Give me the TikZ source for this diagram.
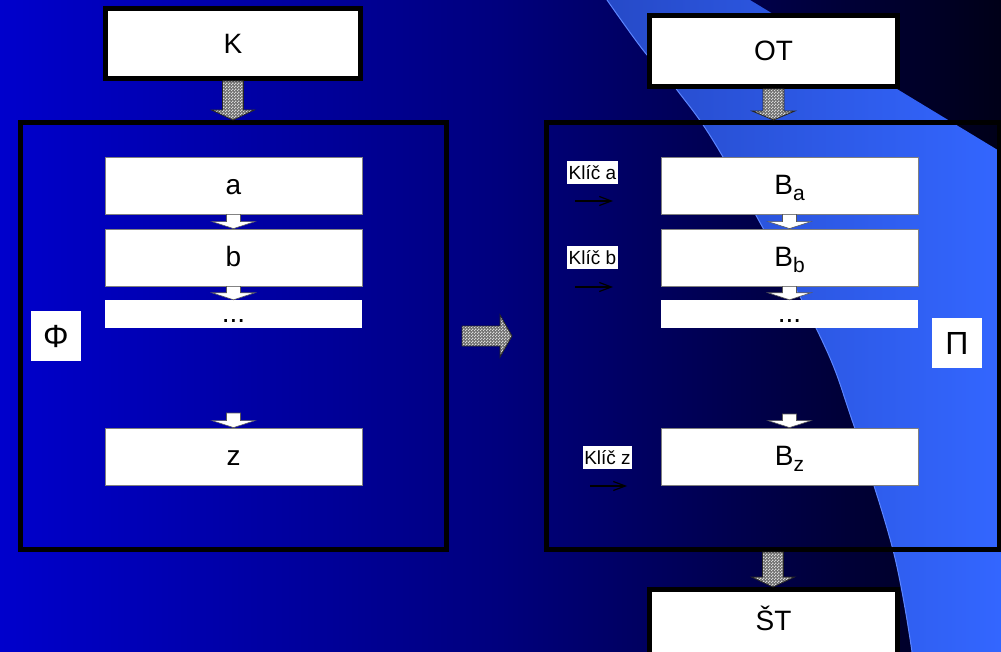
\documentclass[tikz,border=0pt]{standalone}
\usepackage{fontspec}
\setmainfont{Liberation Sans}
\usetikzlibrary{patterns,calc,arrows.meta}
\definecolor{bgA}{RGB}{0,0,204}
\definecolor{bgB}{RGB}{0,0,125}
\definecolor{bgC}{RGB}{0,0,24}
\definecolor{bandA}{RGB}{38,74,200}
\definecolor{bandB}{RGB}{51,102,255}
\definecolor{chkA}{RGB}{110,110,110}
\definecolor{chkB}{RGB}{215,215,215}
\pgfdeclarehorizontalshading{bgshade}{100bp}{color(0bp)=(bgA); color(25bp)=(bgA); color(50bp)=(bgB); color(75bp)=(bgC); color(100bp)=(bgC)}
\pgfdeclarepatternformonly{finecheck}{\pgfpointorigin}{\pgfqpoint{3pt}{3pt}}{\pgfqpoint{3pt}{3pt}}{%
  \pgfpathrectangle{\pgfpointorigin}{\pgfqpoint{1.55pt}{1.55pt}}%
  \pgfpathrectangle{\pgfqpoint{1.5pt}{1.5pt}}{\pgfqpoint{1.55pt}{1.55pt}}%
  \pgfusepath{fill}}
\newcommand\myvarrow[6]{\path[#1] let \p1=(#2), \p2=(#3) in
  (\x1-#4pt,\y1) -- (\x1+#4pt,\y1) -- (\x1+#4pt,\y2+#6pt) -- (\x1+#5pt,\y2+#6pt) -- (\x1,\y2)
  -- (\x1-#5pt,\y2+#6pt) -- (\x1-#4pt,\y2+#6pt) -- cycle;}
\newcommand\myharrow[6]{\path[#1] let \p1=(#2), \p2=(#3) in
  (\x1,\y1-#4pt) -- (\x2-#6pt,\y1-#4pt) -- (\x2-#6pt,\y1-#5pt) -- (\x2,\y1)
  -- (\x2-#6pt,\y1+#5pt) -- (\x2-#6pt,\y1+#4pt) -- (\x1,\y1+#4pt) -- cycle;}
\begin{document}
\begin{tikzpicture}[x=1pt,y=-1pt,
  bigbox/.style={draw=black,line width=5pt,fill=white,inner sep=0pt,font=\fontsize{28}{28}\selectfont},
  frame/.style={draw=black,line width=5pt,inner sep=0pt},
  inbox/.style={draw=gray,line width=0.8pt,fill=white,minimum width=257pt,minimum height=57pt,inner sep=0pt,text height=18pt,text depth=0pt,font=\fontsize{28}{28}\selectfont},
  dotbox/.style={fill=white,minimum width=257pt,minimum height=28pt,inner sep=0pt,text height=18pt,text depth=0pt,font=\fontsize{28}{28}\selectfont},
  greek/.style={fill=white,minimum width=50pt,minimum height=50pt,inner sep=0pt,font=\fontsize{32}{32}\selectfont},
  keylabel/.style={fill=white,inner sep=1pt,minimum height=23pt,font=\fontsize{19}{19}\selectfont},
  keyarrow/.style={draw=black,line width=1.6pt,-{Straight Barb[length=12pt,width=9pt,line width=1.2pt]}},
  smallarr/.style={fill=white,draw=gray!70!black,line width=0.6pt},
  bigarr/.style={preaction={fill=chkA},pattern=finecheck,pattern color=chkB,draw=black!85,line width=0.8pt},
  band/.style={left color=bandA,right color=bandB}
]
\useasboundingbox (0,0) rectangle (1001,652);
% background
\path[shading=bgshade] (0,0) rectangle (1001,652);
\path[band] (750,0) -- (1001,152) -- (1001,652) -- plot[smooth,tension=0.6] coordinates {(912,652) (893,550) (852,420) (817,330) (723,157) (677,90) (643,50) (607,0)} -- cycle;
\draw[bandB!80!white,line width=1pt] plot[smooth,tension=0.6] coordinates {(912,652) (893,550) (852,420) (817,330) (723,157) (677,90) (643,50) (607,0)};

% frames
\node[frame,minimum width=426.5pt,minimum height=427pt] (lbox) at (233.25,336) {};
\node[frame,minimum width=453pt,minimum height=427pt] (rbox) at (773,336) {};

% top / bottom boxes
\node[bigbox,minimum width=255pt,minimum height=70pt] (K) at (233,43.5) {K};
\node[bigbox,minimum width=248pt,minimum height=71pt] (OT) at (773.5,51) {OT};
\node[bigbox,minimum width=248pt,minimum height=80pt,text height=20pt,text depth=19pt] (ST) at (773.5,629.5) {ŠT};

% left column
\node[inbox] (a) at (233.5,185.5) {a};
\node[inbox] (b) at (233.5,257.5) {b};
\node[dotbox] (ldots) at (233.5,314) {...};
\node[inbox] (z) at (233.5,456.5) {z};
\coordinate (lz) at (233.5,413);

% right column
\node[inbox] (Ba) at (789.5,185.5) {B\raisebox{-6pt}{\fontsize{21}{21}\selectfont a}};
\node[inbox] (Bb) at (789.5,257.5) {B\raisebox{-6pt}{\fontsize{21}{21}\selectfont b}};
\node[dotbox] (rdots) at (789.5,314) {...};
\node[inbox] (Bz) at (789.5,456.5) {B\raisebox{-6pt}{\fontsize{21}{21}\selectfont z}};
\coordinate (rz) at (789.5,414);

% greek labels
\node[greek] (phi) at (56,336) {Φ};
\node[greek] (pi) at (957,343) {Π};

% key labels and arrows
\node[keylabel,minimum width=51pt] (ka) at (592.5,172.5) {Klíč a};
\node[keylabel,minimum width=51pt] (kb) at (592.5,258) {Klíč b};
\node[keylabel,minimum width=49pt] (kz) at (607.5,457.5) {Klíč z};
\coordinate (ka1) at (575,201); \coordinate (ka2) at (613,201);
\coordinate (kb1) at (575,287); \coordinate (kb2) at (613,287);
\coordinate (kz1) at (590,486); \coordinate (kz2) at (627,486);
\draw[keyarrow] (ka1) -- (ka2);
\draw[keyarrow] (kb1) -- (kb2);
\draw[keyarrow] (kz1) -- (kz2);

% small white arrows
\myvarrow{smallarr}{a.south}{b.north}{7}{21.5}{7}
\myvarrow{smallarr}{b.south}{ldots.north}{7}{21.5}{7}
\myvarrow{smallarr}{lz}{z.north}{7}{21.5}{7}
\myvarrow{smallarr}{Ba.south}{Bb.north}{7}{21.5}{7}
\myvarrow{smallarr}{Bb.south}{rdots.north}{7}{21.5}{7}
\myvarrow{smallarr}{rz}{Bz.north}{7}{21.5}{7}

% big checkered arrows
\myvarrow{bigarr}{K.south}{lbox.north}{10.5}{21.5}{10}
\myvarrow{bigarr}{OT.south}{rbox.north}{10.5}{21.5}{9}
\myvarrow{bigarr}{rbox.south}{ST.north}{10.5}{21.5}{10}
\coordinate (hs) at (462,336);
\coordinate (he) at (512,336);
\myharrow{bigarr}{hs}{he}{10}{21}{12}
\end{tikzpicture}
\end{document}
